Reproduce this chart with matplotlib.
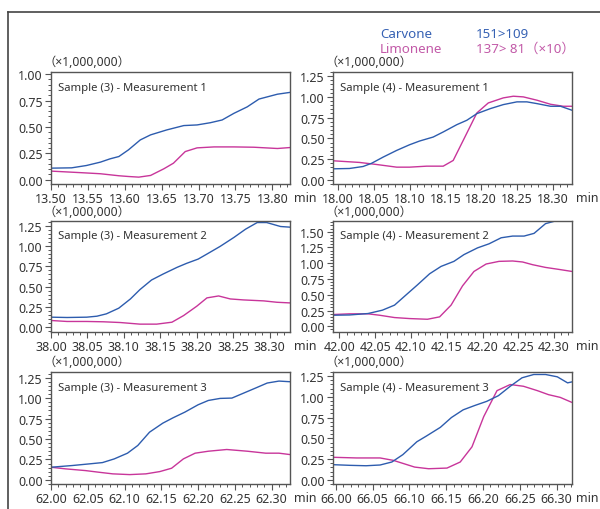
import matplotlib
matplotlib.use("Agg")
import matplotlib.pyplot as plt
from matplotlib.ticker import MultipleLocator, FormatStrFormatter
from matplotlib.lines import Line2D

plt.rcParams['font.family'] = ['Noto Sans', 'Noto Sans CJK JP', 'DejaVu Sans']

# ---------------- data ----------------
compounds = ["Carvone", "Limonene"]
transitions = ["151>109", "137> 81（×10）"]
panel_titles = ["Sample (3) - Measurement 1", "Sample (4) - Measurement 1",
                "Sample (3) - Measurement 2", "Sample (4) - Measurement 2",
                "Sample (3) - Measurement 3", "Sample (4) - Measurement 3"]
scale_label = "（×1,000,000）"
x_unit = "min"

# Panel 1
t1_car = [13.500, 13.528, 13.548, 13.567, 13.580, 13.592, 13.605, 13.621, 13.635, 13.657,
          13.680, 13.698, 13.716, 13.732, 13.748, 13.766, 13.782, 13.807, 13.824]
y1_car = [0.110, 0.113, 0.135, 0.167, 0.198, 0.220, 0.283, 0.377, 0.425, 0.472,
          0.513, 0.519, 0.540, 0.566, 0.629, 0.690, 0.764, 0.810, 0.827]
t1_lim = [13.500, 13.544, 13.567, 13.592, 13.605, 13.619, 13.635, 13.653, 13.666, 13.682,
          13.698, 13.721, 13.748, 13.775, 13.807, 13.824]
y1_lim = [0.082, 0.066, 0.057, 0.038, 0.031, 0.025, 0.041, 0.104, 0.157, 0.267,
          0.302, 0.311, 0.311, 0.308, 0.296, 0.305]

# Panel 2
t2_car = [17.993, 18.016, 18.035, 18.047, 18.063, 18.082, 18.100, 18.114, 18.133, 18.147,
          18.166, 18.180, 18.194, 18.213, 18.231, 18.250, 18.264, 18.278, 18.297, 18.311, 18.327]
y2_car = [0.133, 0.137, 0.161, 0.200, 0.274, 0.355, 0.423, 0.468, 0.516, 0.577,
          0.665, 0.718, 0.798, 0.859, 0.907, 0.940, 0.940, 0.919, 0.887, 0.887, 0.839]
t2_lim = [17.993, 18.030, 18.054, 18.082, 18.100, 18.124, 18.147, 18.161, 18.175, 18.194,
          18.210, 18.231, 18.245, 18.259, 18.278, 18.297, 18.315, 18.327]
y2_lim = [0.230, 0.210, 0.185, 0.153, 0.153, 0.165, 0.165, 0.234, 0.476, 0.806,
          0.927, 0.988, 1.008, 1.000, 0.960, 0.911, 0.887, 0.887]

# Panel 3
t3_car = [38.000, 38.022, 38.049, 38.063, 38.076, 38.093, 38.109, 38.122, 38.138, 38.154,
          38.173, 38.186, 38.202, 38.214, 38.232, 38.251, 38.267, 38.283, 38.296, 38.315, 38.328]
y3_car = [0.123, 0.119, 0.123, 0.135, 0.164, 0.234, 0.348, 0.463, 0.582, 0.656,
          0.738, 0.787, 0.840, 0.902, 0.996, 1.107, 1.209, 1.291, 1.291, 1.242, 1.234]
t3_lim = [38.000, 38.022, 38.049, 38.072, 38.095, 38.122, 38.145, 38.166, 38.182, 38.200,
          38.214, 38.230, 38.246, 38.264, 38.292, 38.310, 38.328]
y3_lim = [0.082, 0.070, 0.070, 0.066, 0.057, 0.037, 0.037, 0.061, 0.143, 0.258,
          0.361, 0.385, 0.348, 0.336, 0.324, 0.307, 0.299]

# Panel 4
t4_car = [41.991, 42.014, 42.040, 42.060, 42.077, 42.093, 42.109, 42.126, 42.142, 42.160,
          42.174, 42.193, 42.209, 42.226, 42.242, 42.258, 42.272, 42.288, 42.302, 42.325]
y4_car = [0.176, 0.180, 0.203, 0.256, 0.336, 0.497, 0.657, 0.833, 0.950, 1.030,
          1.137, 1.244, 1.308, 1.404, 1.431, 1.431, 1.474, 1.628, 1.671, 1.760]
t4_lim = [41.991, 42.014, 42.040, 42.056, 42.077, 42.098, 42.123, 42.140, 42.156, 42.172,
          42.188, 42.205, 42.223, 42.242, 42.256, 42.270, 42.288, 42.307, 42.325]
y4_lim = [0.187, 0.198, 0.198, 0.176, 0.139, 0.123, 0.112, 0.150, 0.336, 0.641,
          0.870, 0.988, 1.030, 1.036, 1.020, 0.977, 0.934, 0.902, 0.870]

# Panel 5
t5_car = [62.000, 62.029, 62.052, 62.070, 62.086, 62.104, 62.118, 62.134, 62.152, 62.166,
          62.182, 62.200, 62.214, 62.230, 62.246, 62.262, 62.278, 62.294, 62.310, 62.325]
y5_car = [0.155, 0.176, 0.196, 0.212, 0.257, 0.327, 0.421, 0.584, 0.694, 0.760,
          0.829, 0.919, 0.972, 0.997, 1.001, 1.062, 1.123, 1.185, 1.209, 1.201]
t5_lim = [62.000, 62.020, 62.047, 62.065, 62.084, 62.107, 62.129, 62.148, 62.164, 62.180,
          62.196, 62.214, 62.239, 62.267, 62.292, 62.310, 62.325]
y5_lim = [0.155, 0.135, 0.114, 0.094, 0.074, 0.065, 0.074, 0.102, 0.143, 0.257,
          0.327, 0.351, 0.372, 0.351, 0.327, 0.327, 0.310]

# Panel 6
t6_car = [65.996, 66.019, 66.041, 66.060, 66.076, 66.091, 66.110, 66.123, 66.142, 66.157,
          66.173, 66.189, 66.205, 66.221, 66.237, 66.253, 66.269, 66.285, 66.301, 66.315, 66.321]
y6_car = [0.183, 0.175, 0.170, 0.179, 0.215, 0.304, 0.459, 0.528, 0.633, 0.751,
          0.844, 0.897, 0.946, 1.015, 1.128, 1.230, 1.270, 1.270, 1.242, 1.169, 1.181]
t6_lim = [65.996, 66.028, 66.060, 66.078, 66.107, 66.126, 66.151, 66.169, 66.185, 66.201,
          66.219, 66.237, 66.255, 66.274, 66.289, 66.305, 66.321]
y6_lim = [0.272, 0.264, 0.264, 0.235, 0.154, 0.134, 0.142, 0.215, 0.398, 0.763,
          1.075, 1.149, 1.128, 1.075, 1.027, 0.994, 0.933]

x_starts = [13.50, 18.00, 38.00, 42.00, 62.00, 66.00]
xlims = [(13.50, 13.824), (17.993, 18.327), (38.00, 38.328),
         (41.991, 42.325), (62.00, 62.325), (65.996, 66.321)]
ylims = [(-0.04, 1.02), (-0.05, 1.30), (-0.06, 1.31),
         (-0.09, 1.67), (-0.05, 1.32), (-0.05, 1.30)]
ymax_ticks = [1.00, 1.25, 1.25, 1.50, 1.25, 1.25]

series = [
    (t1_car, y1_car, t1_lim, y1_lim),
    (t2_car, y2_car, t2_lim, y2_lim),
    (t3_car, y3_car, t3_lim, y3_lim),
    (t4_car, y4_car, t4_lim, y4_lim),
    (t5_car, y5_car, t5_lim, y5_lim),
    (t6_car, y6_car, t6_lim, y6_lim),
]

# ---------------- style ----------------
W, H = 600, 510
col_blue = '#2d5cae'
col_mag = '#c8359a'
txt_blue = '#3762b4'
txt_pink = '#c25aa8'
spine_col = '#555555'
tick_txt = '#333333'

fig = plt.figure(figsize=(W / 100, H / 100), dpi=100)

cols = [(51, 290), (333, 572)]
rows = [(73, 185), (222, 333), (373, 485)]


def px_axes(x0, x1, y0, y1):
    return [x0 / W, 1 - y1 / H, (x1 - x0) / W, (y1 - y0) / H]


for i in range(6):
    r, c = divmod(i, 2)
    x0, x1 = cols[c]
    y0, y1 = rows[r]
    ax = fig.add_axes(px_axes(x0, x1, y0, y1))
    tc, yc, tl, yl = series[i]
    ax.plot(tl, yl, color=col_mag, lw=1.0)
    ax.plot(tc, yc, color=col_blue, lw=1.0)
    ax.set_xlim(*xlims[i])
    ax.set_ylim(*ylims[i])
    xs = x_starts[i]
    ax.set_xticks([round(xs + 0.05 * k, 2) for k in range(7)])
    ax.xaxis.set_major_formatter(FormatStrFormatter('%.2f'))
    ax.xaxis.set_minor_locator(MultipleLocator(0.01))
    ax.set_yticks([0.25 * k for k in range(int(round(ymax_ticks[i] / 0.25)) + 1)])
    ax.yaxis.set_major_formatter(FormatStrFormatter('%.2f'))
    ax.yaxis.set_minor_locator(MultipleLocator(0.05))
    for s in ax.spines.values():
        s.set_color(spine_col)
        s.set_linewidth(1.0)
    ax.tick_params(axis='both', which='major', direction='out', length=4, width=0.8,
                   color=spine_col, labelsize=9, labelcolor=tick_txt, pad=2)
    ax.tick_params(axis='both', which='minor', direction='out', length=2, width=0.7,
                   color=spine_col)
    ax.text(0.03, 0.865, panel_titles[i], transform=ax.transAxes, fontsize=8.1,
            color=tick_txt, ha='left', va='center')
    ax.text(-0.03, 1.09, scale_label, transform=ax.transAxes, fontsize=8.8,
            color=tick_txt, ha='left', va='center')
    ax.text(1.015, -0.125, x_unit, transform=ax.transAxes, fontsize=9,
            color=tick_txt, ha='left', va='center')

# legend text
fig.text(380 / W, 1 - 34 / H, compounds[0], color=txt_blue, fontsize=9.6, va='center', ha='left')
fig.text(476 / W, 1 - 34 / H, transitions[0], color=txt_blue, fontsize=9.6, va='center', ha='left')
fig.text(380 / W, 1 - 49.5 / H, compounds[1], color=txt_pink, fontsize=9.6, va='center', ha='left')
fig.text(476 / W, 1 - 49.5 / H, transitions[1], color=txt_pink, fontsize=9.6, va='center', ha='left')

# outer frame (top and left edges)
fig.add_artist(Line2D([8 / W, 1.0], [1 - 13 / H, 1 - 13 / H], transform=fig.transFigure,
                      color='#444444', lw=1.2))
fig.add_artist(Line2D([8 / W, 8 / W], [1 - 13 / H, 0.0], transform=fig.transFigure,
                      color='#444444', lw=1.2))

fig.savefig('out.png', dpi=100)
